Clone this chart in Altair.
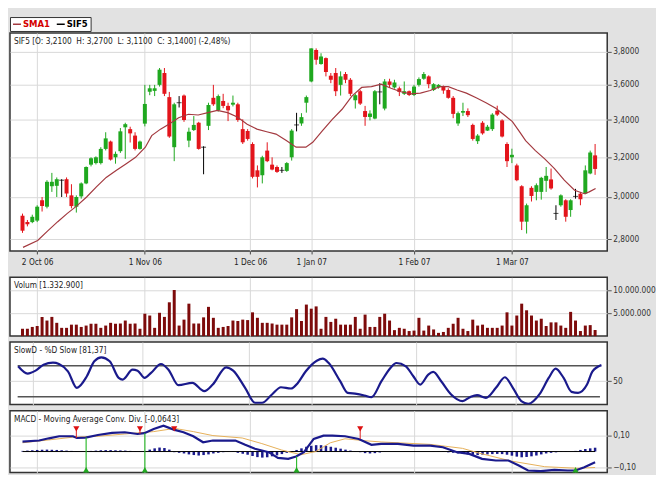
import altair as alt
import pandas as pd

FONT = "DejaVu Sans Condensed, Liberation Sans, sans-serif"
FS = 8.3
GRID = "#d9d9d9"
GREEN = "#1fa81f"
RED = "#e3141b"
NAVY = "#1a1a8c"
SMA_C = "#a3393f"
VOL_C = "#7d0b0b"
W = 600

# ---------------- data ----------------
opens = [2.91, 2.88, 2.88, 2.887, 2.984, 2.953, 3.053, 3.055, 3.083, 3.088,
         3.008, 2.953, 3.003, 3.067, 3.162, 3.17, 3.17, 3.244, 3.283, 3.2,
         3.232, 3.36, 3.35, 3.315, 3.244, 3.38, 3.56, 3.565, 3.6, 3.67,
         3.529, 3.253, 3.497, 3.538, 3.288, 3.345, 3.385, 3.253, 3.368, 3.525,
         3.454, 3.507, 3.479, 3.486, 3.488, 3.35, 3.34, 3.27, 3.133, 3.108,
         3.235, 3.162, 3.15, 3.133, 3.13, 3.2, 3.373, 3.381, 3.497, 3.62,
         3.81, 3.724, 3.76, 3.654, 3.67, 3.6, 3.664, 3.63, 3.511, 3.563,
         3.45, 3.417, 3.408, 3.559, 3.464, 3.62, 3.585, 3.58, 3.548, 3.563,
         3.541, 3.6, 3.636, 3.65, 3.57, 3.585, 3.59, 3.57, 3.525, 3.381,
         3.441, 3.45, 3.373, 3.285, 3.385, 3.342, 3.35, 3.452, 3.398, 3.27,
         3.2, 3.158, 3.053, 2.882, 3.045, 3.025, 3.025, 3.08, 3.087, 2.921,
         2.96, 2.984, 2.937, 3.003, 3.016, 3.016, 3.117, 3.21]
highs = [2.92, 2.89, 2.915, 2.96, 3.0, 3.083, 3.12, 3.097, 3.088, 3.097,
         3.063, 3.008, 3.072, 3.153, 3.2, 3.205, 3.253, 3.333, 3.288, 3.23,
         3.356, 3.385, 3.363, 3.333, 3.288, 3.6, 3.6, 3.6, 3.7, 3.7,
         3.559, 3.497, 3.535, 3.544, 3.358, 3.422, 3.39, 3.258, 3.497, 3.6,
         3.544, 3.548, 3.497, 3.538, 3.497, 3.404, 3.35, 3.279, 3.158, 3.208,
         3.279, 3.2, 3.158, 3.15, 3.175, 3.35, 3.44, 3.438, 3.538, 3.82,
         3.82, 3.79, 3.764, 3.67, 3.7, 3.68, 3.676, 3.64, 3.548, 3.57,
         3.479, 3.454, 3.57, 3.61, 3.634, 3.636, 3.63, 3.59, 3.62, 3.567,
         3.6, 3.644, 3.676, 3.656, 3.61, 3.604, 3.596, 3.58, 3.535, 3.447,
         3.497, 3.465, 3.38, 3.323, 3.394, 3.373, 3.438, 3.48, 3.404, 3.279,
         3.245, 3.167, 3.058, 2.968, 3.053, 3.067, 3.1, 3.15, 3.142, 2.96,
         3.013, 2.989, 2.989, 3.04, 3.025, 3.158, 3.235, 3.27]
lows = [2.83, 2.86, 2.875, 2.88, 2.93, 2.945, 3.025, 3.0, 3.0, 3.0,
        2.945, 2.925, 2.992, 3.063, 3.153, 3.163, 3.163, 3.236, 3.183, 3.167,
        3.223, 3.192, 3.278, 3.236, 3.24, 3.365, 3.54, 3.535, 3.59, 3.535,
        3.303, 3.18, 3.47, 3.39, 3.253, 3.34, 3.24, 3.113, 3.345, 3.479,
        3.447, 3.466, 3.394, 3.476, 3.39, 3.27, 3.288, 3.092, 3.047, 3.067,
        3.175, 3.133, 3.12, 3.12, 3.125, 3.183, 3.338, 3.368, 3.441, 3.615,
        3.72, 3.72, 3.65, 3.61, 3.535, 3.538, 3.61, 3.535, 3.464, 3.484,
        3.368, 3.398, 3.404, 3.488, 3.454, 3.585, 3.578, 3.535, 3.541, 3.535,
        3.535, 3.59, 3.63, 3.58, 3.564, 3.578, 3.548, 3.52, 3.41, 3.368,
        3.422, 3.417, 3.288, 3.27, 3.32, 3.34, 3.34, 3.422, 3.305, 3.15,
        3.17, 3.078, 2.843, 2.827, 2.978, 2.984, 2.987, 3.025, 3.036, 2.89,
        2.953, 2.882, 2.905, 2.992, 2.96, 3.013, 3.113, 3.11]
closes = [2.84, 2.87, 2.905, 2.953, 2.956, 3.075, 3.075, 3.088, 3.083, 3.017,
          2.956, 3.0, 3.067, 3.15, 3.195, 3.2, 3.244, 3.3, 3.188, 3.218,
          3.338, 3.377, 3.327, 3.244, 3.283, 3.49, 3.58, 3.58, 3.69, 3.548,
          3.31, 3.488, 3.497, 3.4, 3.336, 3.373, 3.244, 3.253, 3.484, 3.488,
          3.535, 3.479, 3.454, 3.497, 3.4, 3.279, 3.297, 3.1, 3.1, 3.2,
          3.18, 3.137, 3.125, 3.133, 3.17, 3.342, 3.373, 3.416, 3.529, 3.82,
          3.75, 3.77, 3.676, 3.63, 3.563, 3.65, 3.63, 3.548, 3.54, 3.492,
          3.417, 3.436, 3.563, 3.559, 3.62, 3.6, 3.614, 3.559, 3.563, 3.541,
          3.59, 3.634, 3.664, 3.604, 3.604, 3.6, 3.567, 3.525, 3.434, 3.438,
          3.45, 3.427, 3.297, 3.315, 3.327, 3.363, 3.43, 3.43, 3.31, 3.18,
          3.213, 3.083, 2.882, 2.96, 3.005, 3.058, 3.095, 3.105, 3.042, 2.921,
          3.008, 2.905, 2.984, 3.003, 2.989, 3.133, 3.225, 3.14]

volumes_m = [1.6, 1.6, 2.0, 2.2, 4.2, 3.4, 4.2, 2.9, 1.8, 1.8,
             2.5, 2.5, 2.0, 2.3, 2.7, 2.7, 1.8, 2.3, 2.9, 2.7,
             2.75, 3.4, 2.7, 2.75, 1.6, 4.9, 4.5, 1.8, 5.1, 4.2,
             7.4, 10.1, 2.3, 3.6, 7.1, 2.75, 2.75, 4.1, 6.4, 4.0,
             1.8, 2.0, 2.2, 3.4, 3.3, 3.6, 3.5, 5.2, 4.0, 2.9,
             2.9, 2.75, 2.5, 2.5, 2.5, 4.1, 5.9, 3.3, 6.9, 6.0,
             6.5, 1.6, 4.2, 3.1, 3.8, 2.5, 2.5, 2.5, 4.2, 1.6,
             4.7, 2.0, 2.0, 4.2, 4.9, 3.4, 1.3, 1.8, 1.6, 1.1,
             1.2, 4.0, 1.2, 2.3, 1.45, 0.7, 0.9, 1.8, 2.7, 4.0,
             1.6, 1.1, 3.6, 2.3, 2.5, 1.8, 1.8, 1.8, 2.3, 5.2,
             2.3, 4.5, 7.1, 5.65, 4.5, 3.4, 3.8, 2.2, 3.0, 3.0,
             2.3, 1.8, 5.3, 3.4, 1.1, 2.3, 2.4, 1.333]

sma_x = [0.1, 3.1, 5.1, 7.2, 9.1, 11.1, 13.1, 15.1, 17.1, 19.2,
         21.2, 23.1, 25.1, 26.4, 28.2, 29.9, 31.9, 33.9, 35.9, 37.9,
         39.8, 41.9, 43.9, 45.9, 47.9, 49.9, 51.8, 53.9, 55.9, 57.9,
         59.3, 61.3, 63.3, 65.3, 67.3, 69.3, 71.3, 73.3, 75.3, 77.3,
         79.3, 81.3, 83.3, 85.3, 87.0, 88.8, 90.7, 92.7, 94.7, 96.7,
         98.7, 100.1, 101.4, 102.8, 104.8, 106.7, 108.7, 110.7, 112.8, 114.8,
         115.8, 117.1]
sma_v = [2.764, 2.795, 2.838, 2.882, 2.92, 2.957, 3.0, 3.05, 3.097, 3.133,
         3.167, 3.2, 3.253, 3.315, 3.35, 3.377, 3.413, 3.432, 3.428, 3.441,
         3.454, 3.441, 3.417, 3.377, 3.35, 3.336, 3.323, 3.288, 3.253, 3.253,
         3.279, 3.342, 3.404, 3.46, 3.535, 3.585, 3.59, 3.604, 3.58, 3.56,
         3.548, 3.552, 3.567, 3.59, 3.59, 3.57, 3.552, 3.525, 3.497, 3.466,
         3.422, 3.391, 3.342, 3.288, 3.235, 3.192, 3.142, 3.083, 3.033, 3.016,
         3.025, 3.042]

stoch_x = [0.1, 2.0, 3.6, 5.2, 7.1, 8.3, 10.1, 11.9, 13.9, 15.4,
           16.8, 18.5, 20.3, 21.1, 23.1, 24.1, 25.5, 26.8, 28.8, 30.3,
           32.3, 35.1, 37.5, 39.2, 41.9, 43.3, 45.7, 47.7, 49.1, 51.1,
           52.9, 54.9, 56.3, 57.9, 60.1, 61.3, 62.5, 64.8, 66.3, 68.1,
           69.7, 71.1, 73.1, 74.9, 76.1, 78.0, 79.5, 80.9, 82.5, 83.5,
           85.1, 87.1, 89.4, 90.9, 92.3, 94.1, 96.1, 97.9, 99.5, 101.2,
           102.6, 104.9, 106.7, 108.1, 109.7, 111.3, 112.6, 114.4, 115.5, 117.3]
stoch_v = [79.1, 64.9, 70.6, 82.3, 86.2, 83.6, 69.4, 37.2, 59.7, 88.8,
           96.5, 88.8, 56.5, 53.3, 72.6, 70.6, 56.5, 66.2, 83.6, 72.6,
           42.3, 46.8, 30.7, 43.6, 77.1, 70.6, 37.2, 8.2, 8.2, 24.3,
           38.4, 35.9, 46.8, 69.4, 90.0, 93.9, 85.5, 50.1, 27.5, 25.5,
           22.3, 19.1, 50.1, 75.9, 85.5, 79.1, 59.7, 43.6, 62.9, 68.1,
           50.1, 24.3, 11.4, 19.1, 23.0, 17.8, 37.2, 57.8, 37.2, 11.4,
           6.2, 25.5, 56.5, 74.5, 56.5, 29.4, 27.5, 43.6, 69.4, 81.4]
stoch_levels = [80, 20]

macd_x = [0, 3.4, 5.4, 7.5, 10.3, 11.1, 12.9, 15.4, 18.3, 20.9,
          23.5, 24.9, 26.8, 28.8, 30.9, 32.9, 34.9, 36.9, 38.9, 40.8,
          43.5, 45.5, 47.5, 50.3, 52.2, 54.3, 55.9, 57.5, 59.5, 61.5,
          63.3, 65.9, 68.7, 71.3, 73.3, 76.7, 79.9, 83.3, 85.9, 88.8,
          91.3, 93.9, 96.7, 99.3, 101.4, 103.3, 105.9, 108.7, 111.4, 113.0,
          114.8, 117.0]
macd_v = [0.0625, 0.069, 0.083, 0.096, 0.096, 0.085, 0.0875, 0.104, 0.117, 0.121,
          0.11, 0.115, 0.142, 0.1625, 0.1375, 0.121, 0.096, 0.058, 0.069, 0.069,
          0.069, 0.042, 0.017, -0.004, -0.04, -0.046, -0.031, -0.004, 0.079, 0.1,
          0.1, 0.096, 0.079, 0.042, 0.048, 0.048, 0.0375, 0.0375, 0.027, -0.004,
          -0.015, -0.046, -0.056, -0.056, -0.0875, -0.119, -0.123, -0.115, -0.119, -0.119,
          -0.098, -0.067]
sig_x = [0, 5.4, 10.3, 15.1, 20.9, 26.8, 31.1, 34.9, 38.9, 44.9,
         48.9, 52.9, 56.9, 59.9, 62.9, 65.9, 69.9, 73.3, 83.3, 89.9,
         93.3, 99.9, 106.7, 113.4, 117]
sig_v = [0.055, 0.073, 0.09, 0.095, 0.11, 0.125, 0.145, 0.125, 0.1, 0.085,
         0.05, 0.01, -0.02, 0.0, 0.055, 0.08, 0.068, 0.06, 0.045, 0.02,
         -0.01, -0.06, -0.095, -0.105, -0.1]
hist_v = [0.004, 0.006, 0.008, 0.010, 0.012, 0.012, 0.011, 0.010, 0.008, 0.006, 0.004,
          -0.002, -0.001,
          0.002, 0.004, 0.006, 0.008, 0.009, 0.009, 0.008, 0.007, 0.006, 0.004, 0.002,
          -0.002,
          0.004, 0.012, 0.02, 0.025, 0.022, 0.012,
          -0.004, -0.008, -0.012, -0.018, -0.022, -0.025, -0.022, -0.018, -0.012, -0.008,
          -0.004, -0.002, -0.002, -0.008, -0.014, -0.02, -0.028, -0.035, -0.038, -0.036,
          -0.03, -0.024, -0.016, -0.008, -0.002,
          0.01, 0.02, 0.03, 0.036, 0.04, 0.04, 0.036, 0.03, 0.024, 0.018, 0.012, 0.006, 0.002,
          -0.004, -0.01, -0.012, -0.01, -0.006, -0.002, -0.001, -0.001, -0.001, -0.001,
          -0.001, -0.001, -0.001, -0.001, -0.001, -0.002, -0.002, -0.003, -0.005,
          -0.008, -0.012, -0.015, -0.018, -0.02, -0.022, -0.02, -0.018, -0.016, -0.015,
          -0.016, -0.02, -0.026, -0.032, -0.036, -0.034, -0.03, -0.025, -0.018, -0.012,
          -0.008, -0.005,
          -0.003, -0.002, -0.001,
          0.004, 0.01, 0.016, 0.02, 0.024]
buy_idx = [13, 25, 56, 113]
buy_macd = [0.0875, 0.115, -0.031, -0.119]
sell_idx = [11, 24, 31, 69]
sell_macd = [0.085, 0.11, 0.1375, 0.079]

tick_idx = [3, 25, 46.5, 59, 80, 100]
tick_lab = ["2 Oct 06", "1 Nov 06", "1 Dec 06", "1 Jan 07", "1 Feb 07", "1 Mar 07"]
price_ticks = [2.8, 3.0, 3.2, 3.4, 3.6, 3.8]
vol_ticks = [5e6, 10e6]
stoch_ticks = [50]
macd_ticks = [-0.1, 0.0, 0.1]

main_title = "SIF5 [O: 3,2100 \u00a0H: 3,2700 \u00a0L: 3,1100 \u00a0C: 3,1400] (-2,48%)"
vol_title = "Volum [1.332.900]"
stoch_title = "SlowD - %D Slow [81,37]"
macd_title = "MACD - Moving Average Conv. Div. [-0,0643]"

# ---------------- frames ----------------
n = len(closes)
ids = list(range(n))


def dirn(o, c):
    return "up" if c > o else ("down" if c < o else "doji")


candles = pd.DataFrame({"i": ids, "o": opens, "h": highs, "l": lows, "c": closes})
candles["dir"] = [dirn(o, c) for o, c in zip(opens, closes)]
vol_df = pd.DataFrame({"i": ids, "v": [v * 1e6 for v in volumes_m]})
sma_df = pd.DataFrame({"i": sma_x, "v": sma_v, "s": "SMA1"})
stoch_df = pd.DataFrame({"i": stoch_x, "v": stoch_v})
lvl_df = pd.DataFrame({"lv": [lv for lv in stoch_levels for _ in (0, 1)],
                       "i": [e for _ in stoch_levels for e in (0, n - 1)]})
macd_df = pd.DataFrame({"i": macd_x, "v": macd_v})
sig_df = pd.DataFrame({"i": sig_x, "v": sig_v})
hist_df = pd.DataFrame({"i": ids, "h": hist_v})
zero_df = pd.DataFrame({"z": [0.0, 0.0], "i": [0, n - 1]})
buy_df = pd.DataFrame({"i": buy_idx, "m": buy_macd})
sell_df = pd.DataFrame({"i": sell_idx, "m": sell_macd})

XDOM = [-1.54, 118.46]
lab_expr = " : ".join(f"datum.value == {v} ? '{t}'" for v, t in zip(tick_idx, tick_lab)) + " : ''"


def xenc(labels, field="i:Q"):
    if labels:
        ax = alt.Axis(values=tick_idx, labelExpr=lab_expr, grid=True, gridColor=GRID, domain=False,
                      tickSize=3, tickColor="#444", labelFont=FONT, labelFontSize=FS,
                      labelColor="#222", labelPadding=4, title=None)
    else:
        ax = alt.Axis(values=tick_idx, labels=False, ticks=False, domain=False, grid=True,
                      gridColor=GRID, title=None)
    return alt.X(field, scale=alt.Scale(domain=XDOM, nice=False, zero=False), axis=ax)


def yaxis(values, expr):
    return alt.Axis(orient="right", values=values, labelExpr=expr, grid=True, gridColor=GRID,
                    domain=False, tickSize=4, tickColor="#555", labelFont=FONT, labelFontSize=FS,
                    labelColor="#333", labelPadding=1.5, title=None)


def title_layer(text):
    return alt.Chart(pd.DataFrame({"t": [text]})).mark_text(
        align="left", baseline="middle", font=FONT, fontSize=FS, color="#222"
    ).encode(x=alt.value(4), y=alt.value(9), text="t:N")


# ---------------- main panel ----------------
ysc = alt.Scale(type="log", domain=[2.748, 3.917], nice=False)
yax = yaxis(price_ticks, "replace(format(datum.value, '.4f'), '.', ',')")
cscale = alt.Scale(domain=["up", "down", "doji"], range=[GREEN, RED, "#000000"])
base = alt.Chart(candles)
wick = base.mark_rule(strokeWidth=1).encode(
    x=xenc(True), y=alt.Y("l:Q", scale=ysc, axis=yax), y2="h:Q",
    color=alt.Color("dir:N", scale=cscale, legend=None))
body = base.transform_filter("datum.dir != 'doji'").mark_bar(size=4).encode(
    x=xenc(True), y=alt.Y("o:Q", scale=ysc, axis=yax), y2="c:Q",
    color=alt.Color("dir:N", scale=cscale, legend=None))
doji = base.transform_filter("datum.dir == 'doji'").mark_tick(
    orient="horizontal", size=5, thickness=1, color="#000000").encode(
    x=xenc(True), y=alt.Y("c:Q", scale=ysc, axis=yax))
sma = alt.Chart(sma_df).mark_line(strokeWidth=1.2).encode(
    x=xenc(True), y=alt.Y("v:Q", scale=ysc, axis=yax),
    color=alt.Color("s:N", scale=alt.Scale(domain=["SMA1", "SIF5"], range=[SMA_C, "#000000"]),
                    legend=alt.Legend(orient="none", legendX=0, legendY=-16, direction="horizontal",
                                      title=None, fillColor="white", strokeColor="#333",
                                      padding=2, symbolType="stroke", symbolSize=64,
                                      symbolStrokeWidth=1.5, labelFont=FONT, labelFontSize=9.5,
                                      labelFontWeight="bold",
                                      labelColor={"expr": "datum.value == 'SMA1' ? '#d40000' : '#000000'"},
                                      columnPadding=3, labelOffset=1)))
main = alt.layer(wick, body, doji, sma, title_layer(main_title)).resolve_scale(
    color="independent").properties(width=W, height=219)

# ---------------- volume ----------------
vol = alt.layer(
    alt.Chart(vol_df).mark_bar(size=3, color=VOL_C).encode(
        x=xenc(False),
        y=alt.Y("v:Q", scale=alt.Scale(domain=[0, 12.87e6], nice=False),
                axis=yaxis(vol_ticks, "join(split(format(datum.value, ',d'), ','), '.')"))),
    title_layer(vol_title)
).properties(width=W, height=59)

# ---------------- stochastic ----------------
ss = alt.Scale(domain=[4.9, 126.3], nice=False, zero=False)
stoch = alt.layer(
    alt.Chart(lvl_df).mark_line(color="#555555", strokeWidth=1.5).encode(
        x=xenc(False), detail="lv:N",
        y=alt.Y("lv:Q", scale=ss, axis=yaxis(stoch_ticks, "format(datum.value, 'd')"))),
    alt.Chart(stoch_df).mark_line(color=NAVY, strokeWidth=2.2, interpolate="monotone", clip=True).encode(
        x=xenc(False), y=alt.Y("v:Q", scale=ss)),
    title_layer(stoch_title)
).properties(width=W, height=62.7)

# ---------------- MACD ----------------
ms = alt.Scale(domain=[-0.131, 0.256], nice=False, zero=False)
max_ = yaxis(macd_ticks, "replace(format(datum.value, '.2f'), '.', ',')")
macd = alt.layer(
    alt.Chart(hist_df).mark_bar(size=2.5, color=NAVY).encode(
        x=xenc(False), y=alt.Y("h:Q", scale=ms, axis=max_), y2=alt.datum(0)),
    alt.Chart(zero_df).mark_line(color="#000000", strokeWidth=1).encode(
        x=xenc(False), y=alt.Y("z:Q", scale=ms)),
    alt.Chart(sig_df).mark_line(color="#e6b05a", strokeWidth=1).encode(
        x=xenc(False), y=alt.Y("v:Q", scale=ms)),
    alt.Chart(macd_df).mark_line(color=NAVY, strokeWidth=2.2, clip=True).encode(
        x=xenc(False), y=alt.Y("v:Q", scale=ms)),
    alt.Chart(buy_df).mark_rule(color="#33bb33", strokeWidth=1.2).encode(
        x=xenc(False), y=alt.Y("m:Q", scale=ms), y2=alt.datum(-0.131)),
    alt.Chart(buy_df).mark_point(shape="triangle-up", filled=True, size=38, color="#22aa22", opacity=1).encode(
        x=xenc(False), y=alt.datum(-0.114)),
    alt.Chart(sell_df).mark_rule(color="#dd2222", strokeWidth=1).encode(
        x=xenc(False), y=alt.Y("m:Q", scale=ms), y2=alt.datum(0.14)),
    alt.Chart(sell_df).mark_point(shape="triangle-down", filled=True, size=38, color="#dd1111", opacity=1).encode(
        x=xenc(False), y=alt.datum(0.142)),
    title_layer(macd_title)
).properties(width=W, height=62)

lower = alt.vconcat(vol, stoch, macd, spacing=4.0).resolve_scale(x="independent", y="independent")
chart = alt.vconcat(main, lower, spacing=8.5).resolve_scale(
    x="independent", y="independent"
).properties(
    padding={"left": 0, "top": 6, "right": 0, "bottom": 0},
    background="#e2e2e2",
).configure_view(stroke="#333333", strokeWidth=1.5, fill="white")

chart.save("out.html", embed_options={"renderer": "svg", "actions": False})
